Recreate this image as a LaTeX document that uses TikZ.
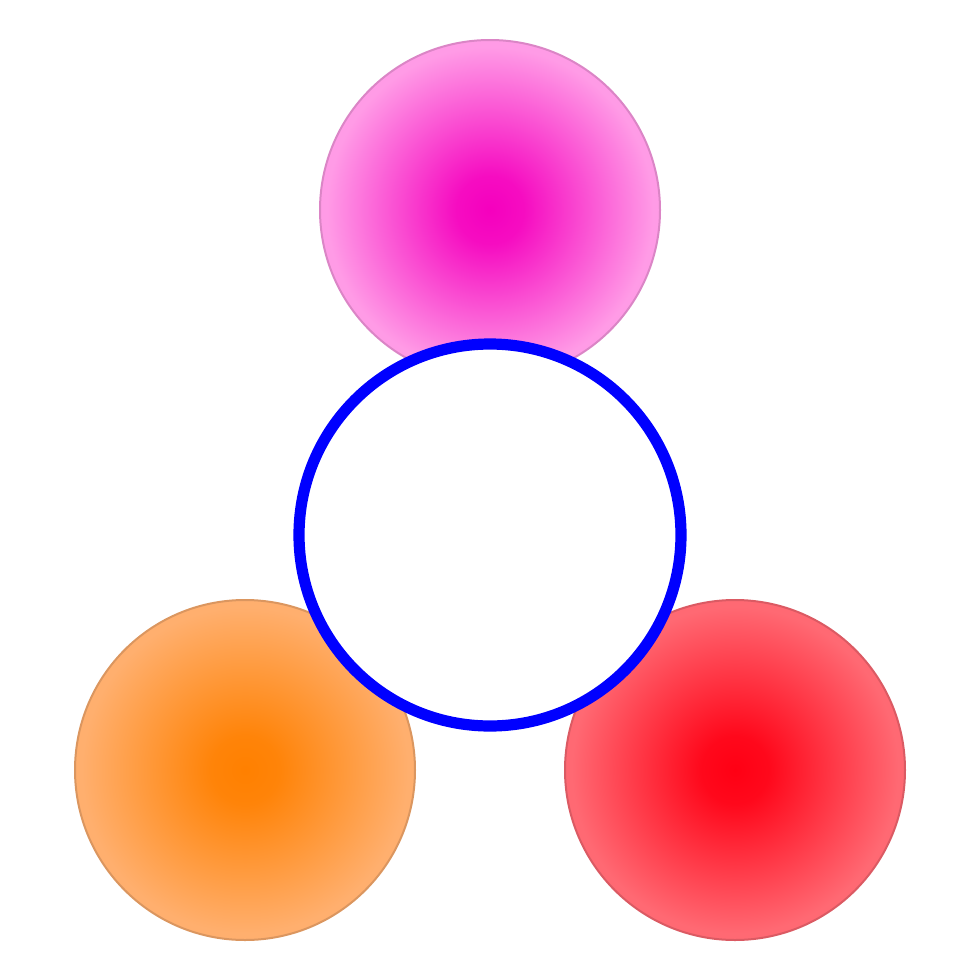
\documentclass[tikz,border=0pt]{standalone}
\definecolor{magA}{RGB}{245,0,190}
\definecolor{magB}{RGB}{255,155,230}
\definecolor{oraA}{RGB}{255,128,0}
\definecolor{oraB}{RGB}{255,175,110}
\definecolor{redA}{RGB}{255,0,20}
\definecolor{redB}{RGB}{255,105,115}
\pgfdeclareradialshading{ballmag}{\pgfpoint{0bp}{0bp}}{color(0bp)=(magA); color(5bp)=(magA!92!magB); color(24bp)=(magB); color(50bp)=(magB)}
\pgfdeclareradialshading{ballora}{\pgfpoint{0bp}{0bp}}{color(0bp)=(oraA); color(5bp)=(oraA!92!oraB); color(24bp)=(oraB); color(50bp)=(oraB)}
\pgfdeclareradialshading{ballred}{\pgfpoint{0bp}{0bp}}{color(0bp)=(redA); color(5bp)=(redA!92!redB); color(24bp)=(redB); color(50bp)=(redB)}
\tikzset{
  ball/.style={circle, minimum size=8.5cm, inner sep=0pt, line width=0.05cm},
  hub/.style={circle, minimum size=9.55cm, inner sep=0pt, draw=blue, fill=white, line width=0.28cm}
}
\begin{document}
\begin{tikzpicture}
\useasboundingbox (0,0) rectangle (24.5,-24.5);
\node[ball, shading=ballmag, draw=magB!86!black] (top) at (12.25,-5.25) {};
\node[ball, shading=ballora, draw=oraB!86!black] (left) at (6.125,-19.25) {};
\node[ball, shading=ballred, draw=redB!86!black] (right) at (18.375,-19.25) {};
\node[hub] (hub) at (12.25,-13.375) {};
\end{tikzpicture}
\end{document}
